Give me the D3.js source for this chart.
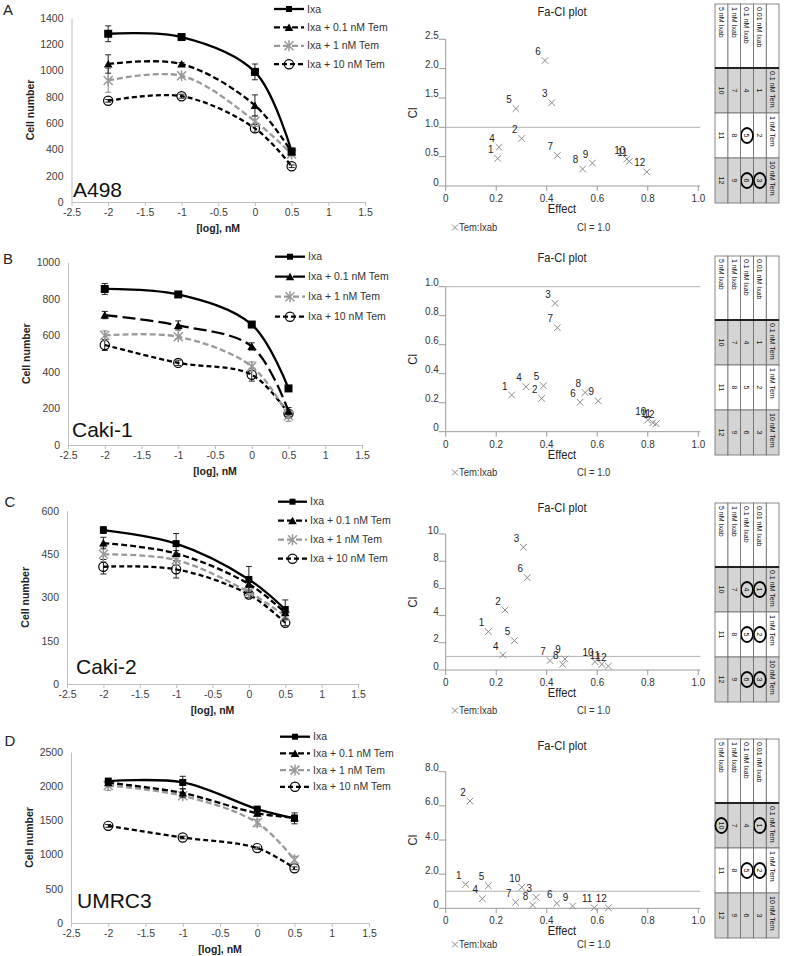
<!DOCTYPE html>
<html><head><meta charset="utf-8">
<script src="https://cdn.jsdelivr.net/npm/d3@7"></script>
<style>
body{margin:0;background:#fff}
svg{display:block}
text{font-family:"Liberation Sans",Arial,Helvetica,sans-serif}
</style>
</head><body>
<svg id="c" width="788" height="956"></svg>
<script>
// ---------------- DATA ----------------
const doses = [-2, -1, 0, 0.5];
const seriesNames = ["Ixa", "Ixa + 0.1 nM Tem", "Ixa + 1 nM Tem", "Ixa + 10 nM Tem"];
const doseTicks = [-2.5, -2, -1.5, -1, -0.5, 0, 0.5, 1, 1.5];

// A498
const a498Ixa    = [1280, 1255, 990, 385];
const a498Tem01  = [1050, 1050, 735, 380];
const a498Tem1   = [925, 960, 615, 365];
const a498Tem10  = [770, 805, 560, 272];
const a498ErrIxa   = [60, 20, 60, 15];
const a498ErrTem01 = [70, 10, 80, 10];
const a498ErrTem1  = [90, 15, 40, 15];
const a498ErrTem10 = [10, 15, 30, 10];
// Caki-1
const caki1Ixa   = [855, 825, 660, 310];
const caki1Tem01 = [712, 655, 540, 185];
const caki1Tem1  = [600, 593, 430, 160];
const caki1Tem10 = [548, 450, 385, 172];
const caki1ErrIxa   = [30, 10, 10, 10];
const caki1ErrTem01 = [20, 25, 20, 20];
const caki1ErrTem1  = [25, 10, 25, 30];
const caki1ErrTem10 = [30, 15, 35, 15];
// Caki-2
const caki2Ixa   = [533, 486, 362, 258];
const caki2Tem01 = [488, 452, 346, 247];
const caki2Tem1  = [449, 429, 318, 235];
const caki2Tem10 = [406, 397, 310, 212];
const caki2ErrIxa   = [12, 35, 45, 33];
const caki2ErrTem01 = [20, 10, 12, 10];
const caki2ErrTem1  = [25, 15, 10, 10];
const caki2ErrTem10 = [25, 30, 10, 10];
// UMRC3
const umrc3Ixa   = [2075, 2055, 1665, 1530];
const umrc3Tem01 = [2050, 1900, 1605, 1540];
const umrc3Tem1  = [2010, 1860, 1465, 925];
const umrc3Tem10 = [1420, 1250, 1095, 800];
const umrc3ErrIxa   = [30, 90, 30, 80];
const umrc3ErrTem01 = [40, 60, 40, 40];
const umrc3ErrTem1  = [70, 30, 50, 50];
const umrc3ErrTem10 = [20, 20, 15, 20];

const yTicksA = [0, 200, 400, 600, 800, 1000, 1200, 1400];
const yTicksB = [0, 200, 400, 600, 800, 1000];
const yTicksC = [0, 150, 300, 450, 600];
const yTicksD = [0, 500, 1000, 1500, 2000, 2500];

// Fa-CI plots (combinations 1..12)
const comboIds = [1,2,3,4,5,6,7,8,9,10,11,12];
const effectTicks = [0, 0.2, 0.4, 0.6, 0.8, 1.0];
const effectLabels = ["0", "0.2", "0.4", "0.6", "0.8", "1.0"];
const a498Effect = [0.206, 0.301, 0.42, 0.211, 0.278, 0.393, 0.442, 0.542, 0.581, 0.717, 0.727, 0.796];
const a498CI     = [0.47, 0.81, 1.42, 0.66, 1.32, 2.14, 0.52, 0.29, 0.39, 0.46, 0.42, 0.24];
const caki1Effect = [0.261, 0.38, 0.433, 0.318, 0.387, 0.532, 0.442, 0.552, 0.604, 0.80, 0.82, 0.833];
const caki1CI     = [0.253, 0.23, 0.885, 0.31, 0.317, 0.203, 0.717, 0.27, 0.212, 0.08, 0.062, 0.055];
const caki2Effect = [0.169, 0.235, 0.308, 0.226, 0.272, 0.323, 0.413, 0.463, 0.472, 0.591, 0.618, 0.644];
const caki2CI     = [2.82, 4.41, 9.02, 1.1, 2.16, 6.79, 0.69, 0.42, 0.81, 0.61, 0.42, 0.29];
const umrc3Effect = [0.079, 0.096, 0.358, 0.145, 0.169, 0.44, 0.277, 0.344, 0.502, 0.301, 0.588, 0.644];
const umrc3CI     = [1.40, 6.28, 0.64, 0.56, 1.32, 0.29, 0.35, 0.19, 0.13, 1.23, 0.03, 0.03];
const ciTicksA = [0, 0.5, 1.0, 1.5, 2.0, 2.5];
const ciLabelsA = ["0", "0.5", "1.0", "1.5", "2.0", "2.5"];
const ciTicksB = [0, 0.2, 0.4, 0.6, 0.8, 1.0];
const ciLabelsB = ["0", "0.2", "0.4", "0.6", "0.8", "1.0"];
const ciTicksC = [0, 2, 4, 6, 8, 10];
const ciLabelsC = ["0", "2", "4", "6", "8", "10"];
const ciTicksD = [0, 2, 4, 6, 8];
const ciLabelsD = ["0", "2.0", "4.0", "6.0", "8.0"];

// Combination tables
const temLabels = ["0.1 nM Tem", "1 nM Tem", "10 nM Tem"];
const ixabLabels = ["0.01 nM Ixab", "0.1 nM Ixab", "1 nM Ixab", "5 nM Ixab"];
const comboGrid = [[1,2,3],[4,5,6],[7,8,9],[10,11,12]];
const circledA = [5, 3, 6];
const circledB = [];
const circledC = [1, 4, 2, 5, 3, 6];
const circledD = [1, 10, 2, 5];

// ---------------- LAYOUT ----------------
const svg = d3.select("#c");
const seriesStyle = [
  {color:"#000", dash:null, marker:"square"},
  {color:"#000", dash:"6,3", marker:"triangle"},
  {color:"#999", dash:"6,3", marker:"star"},
  {color:"#000", dash:"5,3", marker:"circle"}
];

const panels = [
  {letter:"A", cell:"A498", vals:[a498Ixa,a498Tem01,a498Tem1,a498Tem10], errs:[a498ErrIxa,a498ErrTem01,a498ErrTem1,a498ErrTem10], yTicks:yTicksA,
   f:{x0:71.5,x1:365,yTop:18,yBot:202}, letterPos:[8,15], cellPos:[73,197], legend:{x0:274,x1:304,tx:307,y0:9,dy:18.4}, dash01:"6,3", sq:8,
   fa:{eff:a498Effect, ci:a498CI, ticks:ciTicksA, labels:ciLabelsA, yTop:39.3, yBot:186, title:16, leg:231},
   tab:{xr:779, yt:4, circ:circledA}},
  {letter:"B", cell:"Caki-1", vals:[caki1Ixa,caki1Tem01,caki1Tem1,caki1Tem10], errs:[caki1ErrIxa,caki1ErrTem01,caki1ErrTem1,caki1ErrTem10], yTicks:yTicksB,
   f:{x0:68,x1:362,yTop:262.5,yBot:445}, letterPos:[8,264], cellPos:[72,437], legend:{x0:275,x1:305,tx:308,y0:256.7,dy:20}, dash01:"13,5", sq:8,
   fa:{eff:caki1Effect, ci:caki1CI, ticks:ciTicksB, labels:ciLabelsB, yTop:286.7, yBot:431.7, title:262, leg:476},
   tab:{xr:779, yt:256, circ:circledB}},
  {letter:"C", cell:"Caki-2", vals:[caki2Ixa,caki2Tem01,caki2Tem1,caki2Tem10], errs:[caki2ErrIxa,caki2ErrTem01,caki2ErrTem1,caki2ErrTem10], yTicks:yTicksC,
   f:{x0:67,x1:358,yTop:510.7,yBot:684}, letterPos:[10,507], cellPos:[76,674], legend:{x0:278,x1:307,tx:310,y0:501.7,dy:19}, dash01:"6,3", sq:7,
   fa:{eff:caki2Effect, ci:caki2CI, ticks:ciTicksC, labels:ciLabelsC, yTop:534, yBot:670, title:512, leg:714},
   tab:{xr:779, yt:503, circ:circledC}},
  {letter:"D", cell:"UMRC3", vals:[umrc3Ixa,umrc3Tem01,umrc3Tem1,umrc3Tem10], errs:[umrc3ErrIxa,umrc3ErrTem01,umrc3ErrTem1,umrc3ErrTem10], yTicks:yTicksD,
   f:{x0:71,x1:369,yTop:752,yBot:923}, letterPos:[10,746], cellPos:[77,908], legend:{x0:280,x1:310,tx:313,y0:736.7,dy:16.7}, dash01:"6,3", sq:7,
   fa:{eff:umrc3Effect, ci:umrc3CI, ticks:ciTicksD, labels:ciLabelsD, yTop:771.7, yBot:908.3, title:750, leg:948},
   tab:{xr:779, yt:739, circ:circledD}}
];

function drawMarker(g, type, cx, cy, color, s) {
  if (type === "square") {
    g.append("rect").attr("x", cx - s/2).attr("y", cy - s/2).attr("width", s).attr("height", s).attr("fill", color);
  } else if (type === "triangle") {
    g.append("path").attr("transform", `translate(${cx},${cy+1})`)
      .attr("d", d3.symbol().type(d3.symbolTriangle).size(32)()).attr("fill", color);
  } else if (type === "star") {
    const r = 4.5;
    g.append("path").attr("d", `M${cx-r},${cy-r}L${cx+r},${cy+r}M${cx-r},${cy+r}L${cx+r},${cy-r}M${cx},${cy-r-1}L${cx},${cy+r+1}`)
      .attr("stroke", color).attr("stroke-width", 1.5).attr("fill", "none");
  } else if (type === "circle") {
    g.append("circle").attr("cx", cx).attr("cy", cy).attr("r", 4.6).attr("fill", "none").attr("stroke", color).attr("stroke-width", 1.2);
  }
}

function drawDose(p) {
  const g = svg.append("g");
  const f = p.f;
  const yMax = p.yTicks[p.yTicks.length - 1];
  const x = d3.scaleLinear().domain([doseTicks[0], doseTicks[doseTicks.length-1]]).range([f.x0, f.x1]);
  const y = d3.scaleLinear().domain([0, yMax]).range([f.yBot, f.yTop]);

  const xa = g.append("g").attr("transform", `translate(0,${f.yBot})`)
    .call(d3.axisBottom(x).tickValues(doseTicks).tickSize(4).tickSizeOuter(0).tickPadding(3).tickFormat(d => String(d)));
  const ya = g.append("g").attr("transform", `translate(${f.x0},0)`)
    .call(d3.axisLeft(y).tickValues(p.yTicks).tickSize(0).tickPadding(8).tickFormat(d => String(d)));
  [xa, ya].forEach(a => {
    a.select(".domain").attr("stroke", "#bfbfbf");
    a.selectAll(".tick line").attr("stroke", "#bfbfbf");
    a.selectAll("text").attr("fill", "#404040").style("font-size", "10.5px").style("font-family", '"Liberation Sans",Arial,sans-serif');
  });

  g.append("text").attr("x", (f.x0 + f.x1) / 2).attr("y", f.yBot + 30).attr("text-anchor", "middle")
    .style("font-size", "10.5px").style("font-weight", "bold").attr("fill", "#222").text("[log], nM");
  g.append("text").attr("transform", `translate(${f.x0 - 38},${(f.yTop + f.yBot) / 2}) rotate(-90)`)
    .attr("text-anchor", "middle").style("font-size", "10.5px").style("font-weight", "bold").attr("fill", "#222").text("Cell number");

  g.append("text").attr("x", p.letterPos[0]).attr("y", p.letterPos[1]).attr("text-anchor", "middle")
    .style("font-size", "15px").attr("fill", "#222").text(p.letter);
  g.append("text").attr("x", p.cellPos[0]).attr("y", p.cellPos[1])
    .style("font-size", "21px").attr("fill", "#111").text(p.cell);

  const line = d3.line().x(d => x(d[0])).y(d => y(d[1])).curve(d3.curveCatmullRom.alpha(0.5));
  [3, 2, 1, 0].forEach(si => {
    const st = seriesStyle[si];
    const vals = p.vals[si], errs = p.errs[si];
    const pts = doses.map((d, i) => [d, vals[i]]);
    const dash = si === 1 ? p.dash01 : st.dash;
    doses.forEach((d, i) => {
      const cx = x(d), y1 = y(vals[i] + errs[i]), y2 = y(vals[i] - errs[i]);
      g.append("path").attr("d", `M${cx},${y1}V${y2}M${cx-3},${y1}H${cx+3}M${cx-3},${y2}H${cx+3}`)
        .attr("stroke", st.color === "#999" ? "#888" : "#222").attr("stroke-width", 1).attr("fill", "none");
    });
    g.append("path").attr("d", line(pts)).attr("fill", "none").attr("stroke", st.color)
      .attr("stroke-width", 2.3).attr("stroke-dasharray", dash);
    pts.forEach(pt => drawMarker(g, st.marker, x(pt[0]), y(pt[1]), st.color, p.sq));
  });

  const L = p.legend;
  seriesNames.forEach((name, i) => {
    const st = seriesStyle[i];
    const ly = L.y0 + i * L.dy;
    const dash = i === 1 ? p.dash01 : st.dash;
    g.append("line").attr("x1", L.x0).attr("x2", L.x1).attr("y1", ly).attr("y2", ly)
      .attr("stroke", st.color).attr("stroke-width", 2.3).attr("stroke-dasharray", dash);
    drawMarker(g, st.marker, (L.x0 + L.x1) / 2, ly, st.color, 6);
    g.append("text").attr("x", L.tx).attr("y", ly + 3.6).style("font-size", "10.5px").attr("fill", "#333").text(name);
  });
}

function ntext(g, x, y, str, size, anchor, fill) {
  return g.append("text").attr("transform", `translate(${x},${y}) scale(0.86,1)`).attr("text-anchor", anchor || "start")
    .style("font-size", size + "px").attr("fill", fill || "#222").text(str);
}

function xMark(g, cx, cy, r) {
  g.append("path").attr("d", `M${cx-r},${cy-r}L${cx+r},${cy+r}M${cx-r},${cy+r}L${cx+r},${cy-r}`)
    .attr("stroke", "#8a8a8a").attr("stroke-width", 1).attr("fill", "none");
}

function drawFa(p) {
  const a = p.fa;
  const g = svg.append("g");
  const x0 = 445.7, x1 = 698.3;
  const x = d3.scaleLinear().domain([0, 1]).range([x0, x1]);
  const y = d3.scaleLinear().domain([0, a.ticks[a.ticks.length - 1]]).range([a.yBot, a.yTop]);
  const ax = "#9a9a9a";
  g.append("line").attr("x1", x0).attr("x2", x0).attr("y1", a.yTop).attr("y2", a.yBot).attr("stroke", ax).attr("stroke-width", 1);
  g.append("line").attr("x1", x0).attr("x2", x1 + 2).attr("y1", a.yBot).attr("y2", a.yBot).attr("stroke", ax).attr("stroke-width", 1);
  g.append("line").attr("x1", x0).attr("x2", x1 + 2).attr("y1", y(1)).attr("y2", y(1)).attr("stroke", "#b0b0b0").attr("stroke-width", 1);
  a.ticks.forEach((t, i) => {
    const ty = y(t);
    g.append("line").attr("x1", x0 - 7).attr("x2", x0).attr("y1", ty).attr("y2", ty).attr("stroke", ax);
    ntext(g, x0 - 7, ty - 0.5, a.labels[i], 11.5, "end", "#333");
  });
  effectTicks.forEach((t, i) => {
    const tx = x(t);
    g.append("line").attr("x1", tx).attr("x2", tx).attr("y1", a.yBot).attr("y2", a.yBot + 5).attr("stroke", ax);
    ntext(g, tx, a.yBot + 16, effectLabels[i], 11.5, "middle", "#333");
  });
  ntext(g, 562, a.title, "Fa-CI plot", 13, "middle", "#222");
  ntext(g, 562, a.yBot + 27, "Effect", 13, "middle", "#222");
  g.append("text").attr("transform", `translate(${417},${(a.yTop + a.yBot) / 2}) rotate(-90) scale(0.86,1)`)
    .attr("text-anchor", "middle").style("font-size", "13px").attr("fill", "#222").text("CI");
  comboIds.forEach((id, i) => {
    const cx = x(a.eff[i]), cy = y(a.ci[i]);
    xMark(g, cx, cy, 3.3);
    ntext(g, cx - 7, cy - 5.5, String(id), 11.5, "middle", "#222");
  });
  xMark(g, 455, a.leg - 3.5, 3);
  ntext(g, 459, a.leg, "Tem:Ixab", 11, "start", "#333");
  ntext(g, 577, a.leg, "CI = 1.0", 11, "start", "#333");
}

function drawTable(p) {
  const t = p.tab;
  const g = svg.append("g").attr("transform", `translate(${t.xr},${t.yt}) rotate(90)`);
  const colW = [64, 45, 45, 45];
  const colX = [0, 64, 109, 154];
  const rowH = 12.8;
  const shade = [false, true, false, true];
  const rows = [["", ...temLabels]].concat(ixabLabels.map((lab, r) => [lab, ...comboGrid[r]]));
  rows.forEach((row, r) => {
    row.forEach((val, c) => {
      g.append("rect").attr("x", colX[c]).attr("y", r * rowH).attr("width", colW[c]).attr("height", rowH)
        .attr("fill", shade[c] ? "#d4d4d4" : "#fff").attr("stroke", "#6a6a6a").attr("stroke-width", 0.8);
      if (val === "") return;
      const isNum = typeof val === "number";
      g.append("text").attr("transform", `translate(${isNum ? colX[c] + colW[c] / 2 : colX[c] + 3},${r * rowH + rowH / 2 + 2.7}) scale(0.9,1)`)
        .attr("text-anchor", isNum ? "middle" : "start").style("font-size", "7.8px").attr("fill", "#111").text(String(val));
      if (isNum && t.circ.includes(val)) {
        g.append("ellipse").attr("cx", colX[c] + colW[c] / 2).attr("cy", r * rowH + rowH / 2)
          .attr("rx", 7.5).attr("ry", 6).attr("fill", "none").attr("stroke", "#000").attr("stroke-width", 1.8);
      }
    });
  });
  g.append("line").attr("x1", 64).attr("x2", 64).attr("y1", 0).attr("y2", 5 * rowH).attr("stroke", "#222").attr("stroke-width", 2);
}

panels.forEach(p => { drawDose(p); drawFa(p); drawTable(p); });
</script>
</body></html>
